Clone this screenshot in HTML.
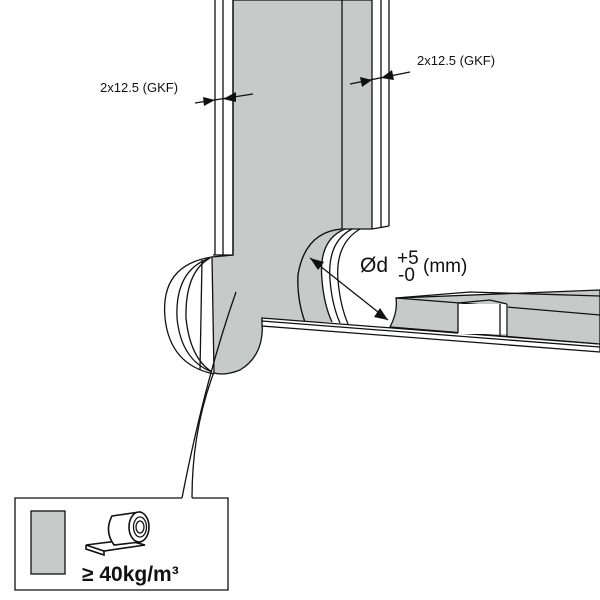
<!DOCTYPE html>
<html><head><style>body{margin:0;background:#fff}svg{display:block}</style></head><body>
<svg width="600" height="600" viewBox="0 0 600 600" xmlns="http://www.w3.org/2000/svg" font-family="Liberation Sans, sans-serif">
<g stroke="#111" stroke-width="1.3" fill="none">
<!-- main gray wall -->
<path d="M233 0 L372 0 L372 229 L342 229 Q305 232 298 275 Q297 300 305 322 L262 320 Q265 355 240 370 Q225 376 214 373 L212 257 L233 255 Z" fill="#c6cbca"/>
<line x1="342" y1="0" x2="342" y2="229"/>
<!-- left boards -->
<line x1="215" y1="0" x2="215" y2="255"/>
<line x1="223" y1="0" x2="223" y2="255"/>
<line x1="233" y1="0" x2="233" y2="255"/>
<line x1="213" y1="255" x2="233" y2="255"/>
<!-- right boards -->
<line x1="381" y1="0" x2="381" y2="228"/>
<line x1="389" y1="0" x2="389" y2="226"/>
<line x1="372" y1="229" x2="389" y2="226"/>
<!-- left hole rings -->
<path d="M212 257 Q160 265 165 318 Q170 365 214 374"/>
<path d="M210 258 Q175 270 177 318 Q181 360 212 372"/>
<path d="M210 258 Q185 272 186 318 Q190 358 212 372"/>
<line x1="202" y1="260" x2="200" y2="370"/>
<!-- right hole: gray band between outer arc and rings -->
<path d="M342 229 Q305 232 298 275 Q297 300 305 322 L332 322 Q324 305 322 280 Q318 240 345 229 Z" fill="#c6cbca" stroke="none"/>
<path d="M342 229 Q305 232 298 275 Q297 300 305 322"/>
<path d="M345 229 Q318 240 322 280 Q324 305 332 322"/>
<path d="M352 229 Q327 242 330 280 Q332 305 340 323"/>
<path d="M360 229 Q335 244 338 280 Q340 305 348 324"/>
<!-- slab -->
<path d="M262 318 L600 344 L600 352 L262 326 Z" fill="#fff"/>
<line x1="262" y1="321" x2="600" y2="347"/>
<!-- raised block -->
<path d="M396 298 L600 290 L600 344 L390 327 Q398 312 396 298 Z" fill="#c6cbca"/>
<path d="M396 298 L460 303 L600 315"/>
<path d="M396 298 L470 292 L600 296"/>
<rect x="458" y="304" width="50" height="30" fill="#fff" stroke="none"/>
<line x1="458" y1="303" x2="458" y2="333"/>
<line x1="500" y1="304" x2="500" y2="337"/>
<line x1="507" y1="304" x2="507" y2="337"/>
<path d="M458 303 L490 300 L507 304" />
<!-- dimension arrow -->
<line x1="310" y1="258" x2="388" y2="320"/>
<!-- leader -->
<path d="M236 292 Q205 380 182 498"/>
<path d="M214 372 Q192 430 192 498"/>
<!-- box -->
<path d="M182 498 L15 498 L15 590 L228 590 L228 498 L192 498"/>
<rect x="31" y="511" width="34" height="63" fill="#c6cbca"/>
<!-- dimension lines GKF -->
<line x1="195" y1="103" x2="253" y2="94"/>
<line x1="350" y1="84" x2="410" y2="72"/>
<!-- roll icon -->
<path d="M86 545 L126 540 L145 545 L104 551 Z" fill="#fff" stroke-width="1.6"/>
<path d="M86 545 L86 549 L104 555 L104 551" stroke-width="1.6"/>
<path d="M112 516 L140 512 L140 542 L114 545 Q104 531 112 516Z" fill="#fff" stroke-width="1.6"/>
<ellipse cx="139" cy="527" rx="10" ry="15" fill="#fff" stroke-width="1.6"/>
<ellipse cx="140" cy="527" rx="6.5" ry="10"/>
<ellipse cx="140" cy="527" rx="4" ry="6"/>
</g>
<g fill="#111">
<polygon points="310,258 324,262 318,270"/>
<polygon points="388,320 374,317 380,308"/>
<polygon points="215,100 203,97 204,106"/>
<polygon points="223,99 236,92 236,102"/>
<polygon points="372,80 360,77 362,87"/>
<polygon points="381,78 392,70 394,80"/>
</g>
<g font-size="13" fill="#111">
<text x="100" y="92">2x12.5 (GKF)</text>
<text x="417" y="65">2x12.5 (GKF)</text>
</g>
<g font-size="21" fill="#111">
<text x="360" y="272">Ød</text>
<text x="397" y="264" font-size="19">+5</text>
<text x="398" y="281" font-size="19">-0</text>
<text x="423" y="272" font-size="19">(mm)</text>
<text x="82" y="581" font-size="21" font-weight="bold">≥ 40kg/m³</text>
</g>
</svg>
</body></html>
